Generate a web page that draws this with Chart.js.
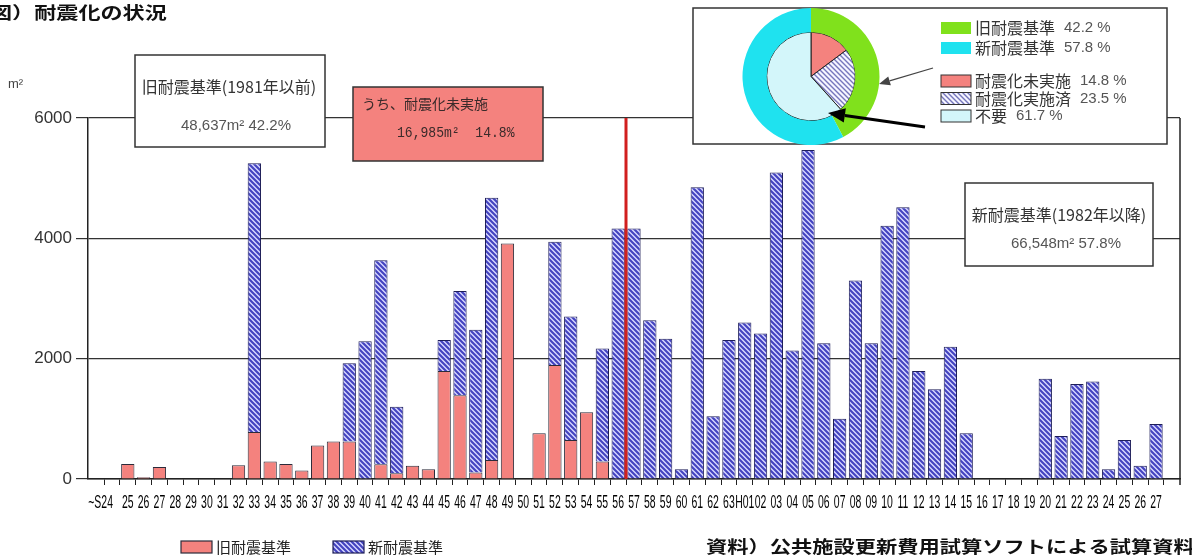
<!DOCTYPE html>
<html lang="ja">
<head>
<meta charset="utf-8">
<title>耐震化の状況</title>
<script src="https://cdn.jsdelivr.net/npm/chart.js@4.4.1/dist/chart.umd.min.js"></script>
<style>
  html, body { margin: 0; padding: 0; background: #fff; }
  #wrap { position: relative; width: 1192px; height: 560px; overflow: hidden; }
  #main { position: absolute; left: 0; top: 0; }
  #pie { position: absolute; left: 693px; top: 8px; }
</style>
</head>
<body>
<div id="wrap">
  <canvas id="main" width="1192" height="560"></canvas>
  <canvas id="pie" width="474" height="137"></canvas>
</div>
<script>
// ---- data -------------------------------------------------------------
// construction year (Showa 24 .. 63, Heisei 01 .. 27)
const categories = [
  '~S24','25','26','27','28','29','30','31','32','33','34','35','36','37','38','39',
  '40','41','42','43','44','45','46','47','48','49','50','51','52','53','54','55',
  '56','57','58','59','60','61','62','63',
  'H01','02','03','04','05','06','07','08','09','10','11','12','13','14','15',
  '16','17','18','19','20','21','22','23','24','25','26','27'
];
// floor area (m²) per year, lower (red) part
const oldStandard = [
  0, 250, 30, 200, 0, 0, 0, 0,
  230, 780, 290, 250, 140, 555, 625, 625,
  0, 245, 95, 220, 160, 1795, 1390, 110,
  315, 3915, 0, 760, 1895, 650, 1110, 290,
  0, 0, 0, 0, 0, 0, 0, 0,
  0, 0, 0, 0, 0, 0, 0, 0,
  0, 0, 0, 0, 0, 0, 0, 0,
  0, 0, 0, 0, 0, 0, 0, 0,
  0, 0, 0
];
// floor area (m²) per year, upper (hatched) part
const newStandard = [
  0, 0, 0, 0, 0, 0, 0, 0,
  0, 4470, 0, 0, 0, 0, 0, 1300,
  2290, 3390, 1105, 0, 0, 515, 1735, 2370,
  4360, 0, 0, 0, 2050, 2050, 0, 1880,
  4165, 4165, 2640, 2330, 160, 4850, 1045, 2310,
  2600, 2420, 5095, 2135, 5470, 2255, 1000, 3300,
  2255, 4210, 4515, 1795, 1490, 2200, 760, 0,
  0, 0, 0, 1665, 715, 1580, 1620, 160,
  650, 220, 915
];
const yTicks = [0, 2000, 4000, 6000];
const seriesNames = ['旧耐震基準', '新耐震基準'];
// the 1981 / 1982 boundary sits between S56 and S57
const standardBoundary = 32.5;

const ringLabels = ['旧耐震基準', '新耐震基準'];
const ringShares = [42.2, 57.8];
const innerLabels = ['耐震化未実施', '耐震化実施済', '不要'];
const innerShares = [14.8, 23.5, 61.7];

const oldNote = ['旧耐震基準(1981年以前)', '48,637m² 42.2%'];
const pendingNote = ['うち、耐震化未実施', '16,985m²  14.8%'];
const newNote = ['新耐震基準(1982年以降)', '66,548m² 57.8%'];
const titleText = '図）耐震化の状況';
const sourceText = '資料）公共施設更新費用試算ソフトによる試算資料';
const unitText = 'm²';

// ---- styles -------------------------------------------------------------
const JP = '"Noto Sans CJK JP", "Noto Sans", sans-serif';
const LAT = '"Liberation Sans", Arial, sans-serif';
const RED = '#f4827e';

const tmp = document.createElement('canvas').getContext('2d');
// diagonal "\\\\" hatch used for the hatched series and slice
function hatch(fg, bg, lw) {
  const s = 5;
  const c = document.createElement('canvas');
  c.width = c.height = s;
  const g = c.getContext('2d');
  g.fillStyle = bg;
  g.fillRect(0, 0, s, s);
  g.strokeStyle = fg;
  g.lineWidth = lw;
  g.beginPath();
  for (let k = -1; k <= 1; k++) { g.moveTo(k * s - 1, -1); g.lineTo(k * s + s + 1, s + 1); }
  g.stroke();
  return tmp.createPattern(c, 'repeat');
}
const barHatch = hatch('#4343c0', '#d8d8ff', 2.1);
const pieHatch = hatch('#7676bc', '#f6f6ff', 1.4);

function drawText(ctx, str, x, y, font, color, align, sx) {
  ctx.save();
  ctx.font = font;
  ctx.fillStyle = color;
  ctx.textAlign = align || 'left';
  ctx.textBaseline = 'middle';
  ctx.translate(x, y);
  ctx.scale(sx || 1, 1);
  ctx.fillText(str, 0, 0);
  ctx.restore();
}
function drawBox(ctx, x0, y0, x1, y1, fill, stroke, lw) {
  ctx.save();
  ctx.fillStyle = fill;
  ctx.fillRect(x0, y0, x1 - x0, y1 - y0);
  if (stroke) {
    ctx.strokeStyle = stroke;
    ctx.lineWidth = lw || 1.5;
    ctx.strokeRect(x0, y0, x1 - x0, y1 - y0);
  }
  ctx.restore();
}
function drawArrow(ctx, x0, y0, x1, y1, lw, head, color) {
  const a = Math.atan2(y1 - y0, x1 - x0);
  const bx = x1 - head * Math.cos(a), by = y1 - head * Math.sin(a);
  const w = head * 0.42;
  ctx.save();
  ctx.strokeStyle = color; ctx.fillStyle = color; ctx.lineWidth = lw;
  ctx.beginPath(); ctx.moveTo(x0, y0); ctx.lineTo(bx, by); ctx.stroke();
  ctx.beginPath();
  ctx.moveTo(x1, y1);
  ctx.lineTo(bx + w * Math.sin(a), by - w * Math.cos(a));
  ctx.lineTo(bx - w * Math.sin(a), by + w * Math.cos(a));
  ctx.closePath(); ctx.fill();
  ctx.restore();
}

// ---- bar chart decorations ------------------------------------------------
const decor = {
  id: 'decor',
  afterDatasetsDraw(chart) {
    const { ctx, scales: { x, y } } = chart;
    const bx = Math.round(x.getPixelForValue(standardBoundary));
    ctx.save();
    ctx.strokeStyle = '#d11f1f';
    ctx.lineWidth = 3;
    ctx.beginPath();
    ctx.moveTo(bx, y.getPixelForValue(yTicks[yTicks.length - 1]));
    ctx.lineTo(bx, y.getPixelForValue(0));
    ctx.stroke();
    ctx.restore();
  },
  afterDraw(chart) {
    const { ctx, chartArea: ca, scales: { x } } = chart;

    // right frame of the plot
    ctx.save();
    ctx.strokeStyle = '#222';
    ctx.lineWidth = 1.5;
    ctx.beginPath();
    ctx.moveTo(ca.right, ca.top);
    ctx.lineTo(ca.right, ca.bottom + 6);
    ctx.stroke();
    ctx.restore();

    // year labels (narrow lettering)
    categories.forEach((lab, i) => {
      const px = x.getPixelForValue(i);
      let align = 'center', ax = px;
      if (lab.startsWith('~')) { align = 'right'; ax = px + 1; }
      drawText(ctx, lab, ax, ca.bottom + 24, '19px ' + LAT, '#000', align, 0.55);
    });

    // unit
    drawText(ctx, unitText, 8, 84, '13px ' + LAT, '#444');

    // title and source
    drawText(ctx, titleText, -10, 13, 'bold 17px ' + JP, '#111', 'left', 1.3);
    drawText(ctx, sourceText, 706, 547, 'bold 17px ' + JP, '#111', 'left', 1.25);

    // old-standard note
    drawBox(ctx, 135, 55, 325, 147, '#fff', '#333');
    drawText(ctx, oldNote[0], 229, 87, '16px ' + JP, '#333', 'center');
    drawText(ctx, oldNote[1], 236, 126, '15px ' + LAT, '#555', 'center');

    // not-yet-retrofitted note
    drawBox(ctx, 353, 87, 543, 161, RED, '#333');
    drawText(ctx, pendingNote[0], 362, 104, '14px ' + JP, '#3a2a2a', 'left');
    drawText(ctx, pendingNote[1], 397, 133, '15px "Liberation Mono", monospace', '#3a2a2a', 'left', 0.87);

    // new-standard note
    drawBox(ctx, 965, 183, 1153, 266, '#fff', '#333');
    drawText(ctx, newNote[0], 1059, 215, '16px ' + JP, '#333', 'center');
    drawText(ctx, newNote[1], 1066, 244, '15px ' + LAT, '#555', 'center');

    // frame behind the pie chart
    drawBox(ctx, 693, 8, 1167, 144, '#fff', '#333');

    // series legend
    const ds = chart.data.datasets;
    const slots = [181, 333];
    ds.forEach((d, i) => {
      const lx = slots[i];
      drawBox(ctx, lx, 541, lx + 31, 553, d.backgroundColor, d.borderColor, 1.2);
      drawText(ctx, d.label, lx + 35, 547, '15px ' + JP, '#222', 'left');
    });
  }
};

new Chart(document.getElementById('main'), {
  type: 'bar',
  data: {
    datasets: [
      {
        label: seriesNames[0],
        data: oldStandard.map((v, i) => ({ x: i, y: v || null })),
        backgroundColor: RED,
        borderColor: '#2b2b3a',
        borderWidth: 1
      },
      {
        label: seriesNames[1],
        data: newStandard.map((v, i) => ({ x: i, y: v || null })),
        backgroundColor: barHatch,
        borderColor: '#1e1e58',
        borderWidth: 1
      }
    ]
  },
  options: {
    responsive: false,
    animation: false,
    devicePixelRatio: 1,
    events: [],
    categoryPercentage: 1,
    barPercentage: 0.84,
    layout: { padding: { top: 118, right: 12, left: 0, bottom: 0 } },
    plugins: { legend: { display: false }, tooltip: { enabled: false } },
    scales: {
      x: {
        type: 'linear',
        stacked: true,
        min: -1,
        max: categories.length,
        afterBuildTicks(scale) { scale.ticks = categories.map((_, i) => ({ value: i })); },
        afterFit(scale) { scale.height = 81; },
        grid: { display: true, drawOnChartArea: false, drawTicks: true, tickLength: 6, color: '#222', lineWidth: 1 },
        border: { display: true, color: '#222', width: 1.5 },
        ticks: { display: false }
      },
      y: {
        stacked: true,
        min: yTicks[0],
        max: yTicks[yTicks.length - 1],
        afterBuildTicks(scale) { scale.ticks = yTicks.map(v => ({ value: v })); },
        afterFit(scale) { scale.width = 88; },
        grid: { color: '#333', lineWidth: 1.2, tickLength: 12, drawTicks: true },
        border: { display: true, color: '#222', width: 1.5 },
        ticks: {
          font: { family: 'Liberation Sans', size: 17 },
          color: '#333',
          padding: 4,
          callback: v => String(v)
        }
      }
    }
  },
  plugins: [decor]
});

// ---- composition pie ---------------------------------------------------
const pieDecor = {
  id: 'pieDecor',
  afterDraw(chart) {
    const ctx = chart.ctx;
    const [ring, inner] = chart.data.datasets;
    const rows = [];
    ringLabels.forEach((lab, i) => rows.push({
      lab, share: ringShares[i], fill: ring.backgroundColor[i], stroke: null, y: 14 + i * 20
    }));
    innerLabels.forEach((lab, i) => rows.push({
      lab, share: innerShares[i], fill: inner.backgroundColor[i], stroke: '#333', y: 67 + i * 17.5
    }));
    rows.forEach(r => {
      drawBox(ctx, 248, r.y, 278, r.y + 12, r.fill, r.stroke, 1);
      drawText(ctx, r.lab, 282, r.y + 6, '16px ' + JP, '#333', 'left');
      ctx.font = '16px ' + JP;
      const w = ctx.measureText(r.lab).width;
      drawText(ctx, r.share.toFixed(1) + ' %', 282 + w + 9, r.y + 6, '15px ' + LAT, '#555', 'left');
    });
    drawArrow(ctx, 240, 60, 186, 76, 1.3, 11, '#444');
    drawArrow(ctx, 232, 119, 135, 105, 3, 17, '#000');
  }
};

new Chart(document.getElementById('pie'), {
  type: 'pie',
  data: {
    labels: innerLabels,
    datasets: [
      {
        label: '耐震基準',
        data: ringShares,
        backgroundColor: ['#80e11c', '#1fe2ef'],
        borderWidth: 0,
        weight: 24
      },
      {
        label: '耐震化',
        data: innerShares,
        backgroundColor: [RED, pieHatch, '#d3f6fa'],
        borderColor: '#222',
        borderWidth: 1,
        weight: 44
      }
    ]
  },
  options: {
    responsive: false,
    animation: false,
    devicePixelRatio: 1,
    events: [],
    layout: { padding: { left: 49.5, right: 287.5, top: 0, bottom: 0 } },
    plugins: { legend: { display: false }, tooltip: { enabled: false } }
  },
  plugins: [pieDecor]
});
</script>
</body>
</html>
